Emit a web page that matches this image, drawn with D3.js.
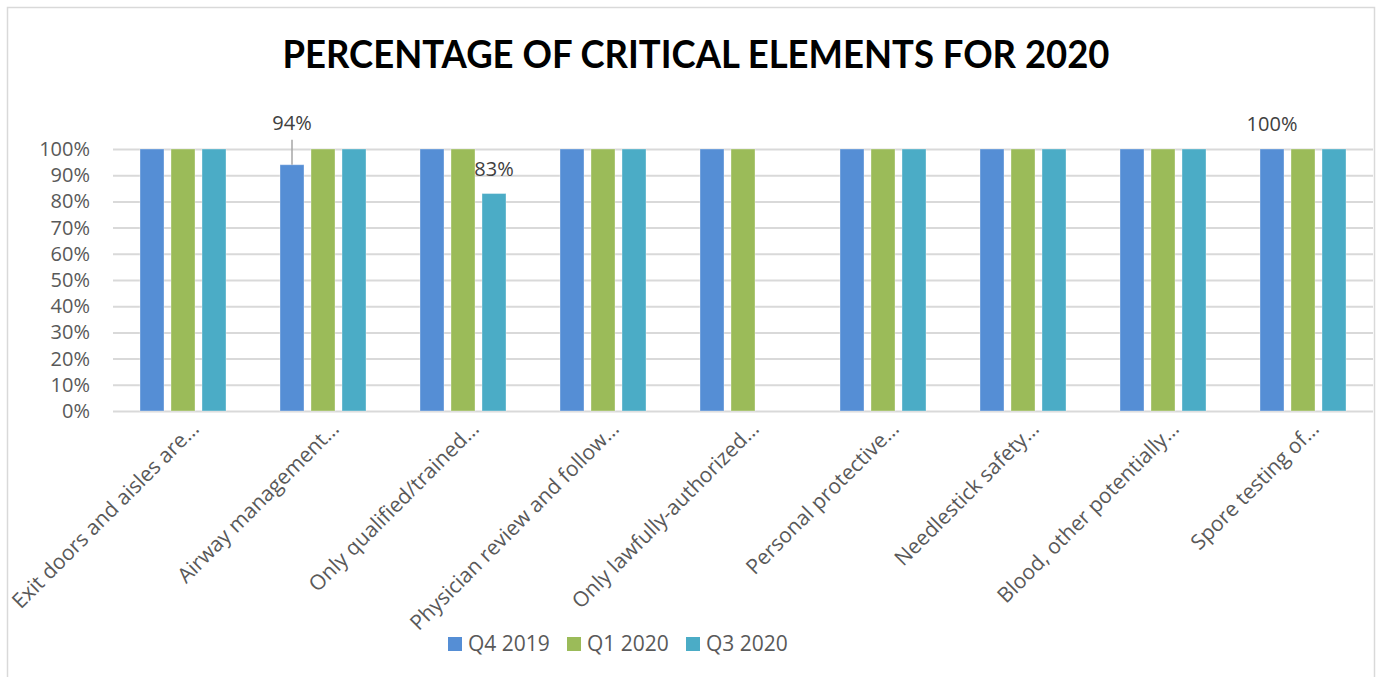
<!DOCTYPE html>
<html>
<head>
<meta charset="utf-8">
<script src="https://cdn.jsdelivr.net/npm/d3@7"></script>
<style>
  body { margin: 0; background: #fff; }
  text { font-family: "Open Sans", "DejaVu Sans", sans-serif; }
</style>
</head>
<body>
<div id="chart"></div>
<script>
// chart data
var categories = [
    "Exit doors and aisles are…",
    "Airway management…",
    "Only qualified/trained…",
    "Physician review and follow…",
    "Only lawfully-authorized…",
    "Personal protective…",
    "Needlestick safety…",
    "Blood, other potentially…",
    "Spore testing of…"
];
var seriesNames = ["Q4 2019", "Q1 2020", "Q3 2020"];
var q4_2019 = [100, 94, 100, 100, 100, 100, 100, 100, 100];
var q1_2020 = [100, 100, 100, 100, 100, 100, 100, 100, 100];
var q3_2020 = [100, 100, 83, 100, null, 100, 100, 100, 100];
var yTicks = [0, 10, 20, 30, 40, 50, 60, 70, 80, 90, 100];
// which points carry a data label: [series index, category index]
var labelled = [[0, 1], [2, 2], [0, 8]];

var colors = ["#558ED5", "#9BBB59", "#4BACC6"];

var width = 1377;
var height = 677;
// plot area edges
var plotLeft = 113, plotRight = 1373, plotTop = 149, plotBottom = 411;

var svg = d3.select("#chart").append("svg")
    .attr("width", width)
    .attr("height", height);

// outer chart border
svg.append("rect")
    .attr("x", 7.5).attr("y", 7.5)
    .attr("width", 1367).attr("height", 700)
    .attr("fill", "none")
    .attr("stroke", "#d9d9d9")
    .attr("stroke-width", 1.5);

svg.append("text")
    .attr("x", 696)
    .attr("y", 68)
    .attr("text-anchor", "middle")
    .attr("textLength", 827)
    .attr("lengthAdjust", "spacingAndGlyphs")
    .style("font-family", "Lato, 'Open Sans', sans-serif")
    .style("font-weight", "bold")
    .style("font-size", "39px")
    .style("fill", "#000")
    .text("PERCENTAGE OF CRITICAL ELEMENTS FOR 2020");

var x = d3.scaleBand().domain(categories).range([plotLeft, plotRight]);
var xs = d3.scaleBand().domain(seriesNames).range([-43, 43]).paddingInner(7 / 31);
var y = d3.scaleLinear().domain([0, 100]).range([plotBottom, plotTop]);

// gridlines + y labels
var yAxis = d3.axisLeft(y)
    .tickValues(yTicks)
    .tickFormat(d => d + "%")
    .tickSize(-(plotRight - plotLeft))
    .tickPadding(23);

svg.append("g")
    .attr("transform", "translate(" + plotLeft + ",0)")
    .call(yAxis)
    .call(g => g.select(".domain").remove())
    .call(g => g.selectAll("line").attr("stroke", "#d9d9d9").attr("stroke-width", 2))
    .call(g => g.selectAll("text")
        .style("font-family", "'Open Sans', sans-serif")
        .style("font-size", "20px")
        .style("fill", "#595959"));

// bars
var series = [q4_2019, q1_2020, q3_2020];
var rows = [];
series.forEach((vals, s) => {
    vals.forEach((v, c) => {
        if (v != null) rows.push({ s: s, cat: categories[c], value: v });
    });
});

svg.append("g")
    .selectAll("rect")
    .data(rows)
    .enter()
    .append("rect")
    .attr("x", d => x(d.cat) + x.bandwidth() / 2 + xs(seriesNames[d.s]))
    .attr("y", d => y(d.value))
    .attr("width", xs.bandwidth())
    .attr("height", d => y(0) - y(d.value))
    .attr("fill", d => colors[d.s])
    .attr("stroke", "#ffffff")
    .attr("stroke-opacity", 0.35)
    .attr("stroke-width", 1);

// category labels (rotated)
svg.append("g")
    .selectAll("text")
    .data(categories)
    .enter()
    .append("text")
    .attr("transform", d => "translate(" + (x(d) + x.bandwidth() / 2 + 12) + "," + (plotBottom + 14) + ") rotate(-45)")
    .attr("text-anchor", "end")
    .attr("dy", "0.35em")
    .style("font-size", "21px")
    .style("fill", "#595959")
    .text(d => d);

// data labels
labelled.forEach(function (p) {
    var s = p[0], c = p[1];
    var v = series[s][c];
    var cx = x(categories[c]) + x.bandwidth() / 2 + xs(seriesNames[s]) + xs.bandwidth() / 2;
    var ty = y(v) - 18;
    if (v < 100 && s == 0) {
        // label moved up with a leader line
        ty = y(v) - 35;
        svg.append("line")
            .attr("x1", cx).attr("x2", cx)
            .attr("y1", y(v)).attr("y2", y(v) - 25)
            .attr("stroke", "#a6a6a6")
            .attr("stroke-width", 1.5);
    }
    svg.append("text")
        .attr("x", cx)
        .attr("y", ty)
        .attr("text-anchor", "middle")
        .style("font-size", "20px")
        .style("fill", "#404040")
        .text(v + "%");
});

// legend
var legendX = [448, 567, 686];
var legend = svg.append("g")
    .selectAll("g")
    .data(seriesNames)
    .enter()
    .append("g")
    .attr("transform", (d, i) => "translate(" + legendX[i] + ",637)");

legend.append("rect")
    .attr("width", 14).attr("height", 14)
    .attr("fill", (d, i) => colors[i]);

legend.append("text")
    .attr("x", 20)
    .attr("y", 14)
    .style("font-size", "21px")
    .style("fill", "#595959")
    .text(d => d);
</script>
</body>
</html>
